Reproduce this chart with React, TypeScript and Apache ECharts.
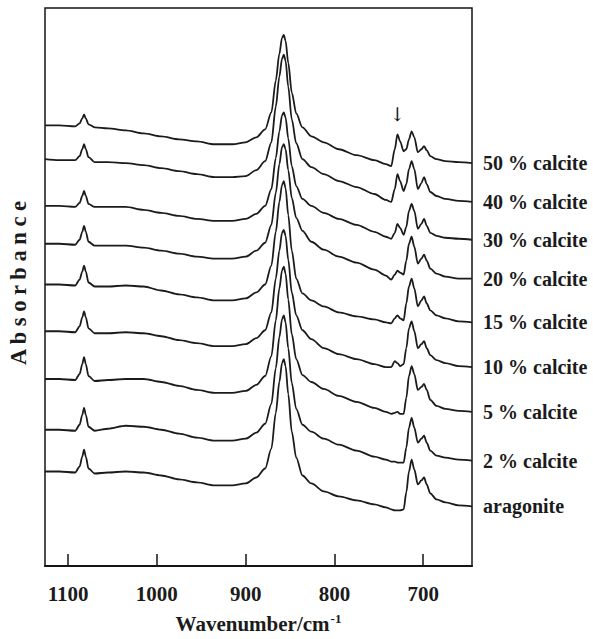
import React, { useEffect, useRef } from "react";
import * as echarts from "echarts";

// Wavenumber grid (cm-1) shared by all spectra
const wavenumbers = [1126, 1110, 1092, 1087, 1084, 1082, 1080, 1077, 1070, 1055, 1035, 1015, 995, 975, 955, 935, 915, 900, 888, 878, 871, 866, 862, 859, 857, 855, 852, 848, 843, 836, 826, 812, 795, 775, 755, 742, 736, 732, 729, 726, 722, 719, 716, 713, 710, 706, 702, 699, 696, 692, 685, 675, 660, 645];

// Stacked absorbance (offset, arbitrary units)
const calcite50 = [443, 443, 442, 445, 450, 454, 450, 444, 441, 440, 438, 435, 432, 429, 427, 424, 424, 426, 431, 439, 456, 488, 515, 531, 534, 528, 506, 476, 455, 441, 432, 426, 419, 413, 408, 404, 402, 419, 434, 427, 417, 419, 429, 437, 431, 416, 419, 422, 418, 412, 409, 407, 406, 405];
const calcite40 = [409, 408, 408, 412, 419, 424, 419, 411, 406, 406, 405, 403, 400, 397, 394, 391, 391, 392, 398, 407, 426, 462, 492, 510, 514, 508, 482, 449, 425, 409, 401, 394, 387, 381, 374, 368, 366, 379, 394, 387, 377, 384, 399, 407, 399, 379, 385, 391, 384, 376, 372, 369, 367, 366];
const calcite30 = [362, 362, 361, 365, 372, 377, 372, 364, 361, 361, 361, 358, 355, 352, 349, 347, 347, 349, 354, 362, 379, 410, 437, 453, 456, 451, 430, 402, 382, 369, 362, 355, 349, 343, 336, 331, 329, 335, 344, 340, 333, 341, 357, 364, 357, 339, 344, 349, 342, 335, 332, 330, 329, 328];
const calcite20 = [324, 324, 323, 328, 336, 342, 336, 326, 322, 322, 322, 320, 317, 314, 311, 309, 309, 311, 317, 325, 343, 375, 404, 421, 424, 419, 398, 370, 350, 337, 326, 318, 311, 305, 298, 292, 288, 293, 297, 295, 293, 307, 324, 331, 321, 304, 309, 313, 307, 299, 294, 291, 289, 289];
const calcite15 = [283, 283, 282, 288, 296, 302, 296, 285, 281, 281, 282, 281, 277, 273, 270, 267, 267, 269, 275, 283, 302, 336, 366, 383, 387, 380, 353, 317, 289, 274, 267, 261, 255, 251, 248, 245, 244, 249, 252, 249, 247, 264, 281, 289, 279, 261, 267, 271, 264, 257, 252, 249, 246, 245];
const calcite10 = [236, 236, 235, 241, 250, 256, 250, 239, 234, 234, 235, 234, 231, 227, 224, 221, 221, 223, 229, 237, 255, 289, 317, 335, 338, 332, 308, 275, 252, 237, 228, 219, 213, 208, 203, 200, 200, 206, 204, 201, 203, 219, 239, 246, 236, 219, 223, 226, 219, 212, 207, 204, 201, 200];
const calcite5 = [188, 188, 187, 193, 203, 210, 203, 191, 186, 187, 188, 188, 185, 181, 177, 174, 174, 176, 182, 191, 211, 247, 279, 297, 301, 294, 268, 233, 208, 192, 185, 178, 171, 165, 159, 155, 153, 154, 155, 153, 153, 169, 191, 201, 193, 177, 180, 183, 177, 167, 161, 158, 156, 155];
const calcite2 = [137, 137, 136, 142, 152, 159, 152, 140, 136, 138, 141, 140, 137, 133, 129, 126, 126, 128, 134, 143, 163, 199, 230, 248, 252, 245, 219, 184, 158, 142, 135, 128, 122, 116, 110, 107, 105, 105, 104, 104, 104, 119, 139, 149, 139, 124, 128, 131, 124, 116, 111, 109, 107, 106];
const aragonite = [95, 95, 94, 100, 110, 117, 110, 98, 93, 94, 95, 94, 91, 87, 84, 81, 81, 83, 89, 98, 118, 154, 185, 204, 208, 201, 173, 135, 109, 91, 83, 75, 70, 66, 62, 59, 57, 56, 56, 56, 57, 74, 95, 107, 97, 82, 86, 89, 82, 73, 67, 64, 61, 60];

const seriesNames = ["50 % calcite", "40 % calcite", "30 % calcite", "20 % calcite", "15 % calcite", "10 % calcite", "5 % calcite", "2 % calcite", "aragonite"];
const seriesValues = [calcite50, calcite40, calcite30, calcite20, calcite15, calcite10, calcite5, calcite2, aragonite];

const tickValues = [1100, 1000, 900, 800, 700];
const xMin = 645;
const xMax = 1126;
const yMin = 0;
const yMax = 561;

// calcite band marked by the arrow (on the 50 % calcite spectrum)
const arrowWavenumber = 729;

const SERIF = "'Liberation Serif', 'Times New Roman', 'DejaVu Serif', serif";

export default function App() {
  const ref = useRef<HTMLDivElement>(null);

  useEffect(() => {
    if (!ref.current) return;
    const chart = echarts.init(ref.current, undefined, { renderer: "svg" });

    const series = seriesNames.map((name, i) => {
      const vals = seriesValues[i];
      const s: any = {
        name,
        type: "line",
        data: wavenumbers.map((w, j) => [w, vals[j]]),
        showSymbol: false,
        symbol: "none",
        smooth: 0.3,
        smoothMonotone: "x",
        lineStyle: { color: "#1b1b1b", width: 1.8 },
        endLabel: {
          show: true,
          formatter: "{a}",
          align: "left",
          distance: -11,
          color: "#1b1b1b",
          fontFamily: SERIF,
          fontWeight: "bold",
          fontSize: 20,
        },
        silent: true,
      };
      if (i === 0) {
        const idx = wavenumbers.indexOf(arrowWavenumber);
        s.markPoint = {
          symbol: "circle",
          symbolSize: 0,
          silent: true,
          label: {
            show: true,
            position: "top",
            distance: 11,
            formatter: "\u2193",
            color: "#1b1b1b",
            fontFamily: "'DejaVu Serif', serif",
            fontSize: 19,
          },
          data: [{ coord: [arrowWavenumber, vals[idx]] }],
        };
      }
      return s;
    });

    chart.setOption({
      animation: false,
      backgroundColor: "#ffffff",
      grid: {
        left: 45,
        top: 8,
        width: 427,
        height: 561,
        show: true,
        borderColor: "#151515",
        borderWidth: 1.5,
        backgroundColor: "transparent",
      },
      xAxis: {
        type: "value",
        inverse: true,
        min: xMin,
        max: xMax,
        name: "Wavenumber/cm{sup|-1}",
        nameLocation: "middle",
        nameGap: 46,
        nameTextStyle: {
          fontFamily: SERIF,
          fontWeight: "bold",
          fontSize: 21,
          color: "#1b1b1b",
          rich: {
            sup: {
              fontFamily: SERIF,
              fontWeight: "bold",
              fontSize: 13,
              color: "#1b1b1b",
              padding: [0, 0, 10, 1],
            },
          },
        },
        axisLine: { show: true, lineStyle: { color: "#151515", width: 2 } },
        axisTick: {
          show: true,
          inside: true,
          length: 12,
          customValues: tickValues,
          lineStyle: { color: "#151515", width: 1.5 },
        },
        axisLabel: {
          show: true,
          customValues: tickValues,
          formatter: (v: number) => String(v),
          margin: 17,
          fontFamily: SERIF,
          fontWeight: "bold",
          fontSize: 21,
          color: "#1b1b1b",
        },
        splitLine: { show: false },
      },
      yAxis: {
        type: "value",
        min: yMin,
        max: yMax,
        axisLine: { show: false },
        axisTick: { show: false },
        axisLabel: { show: false },
        splitLine: { show: false },
      },
      graphic: [
        {
          type: "text",
          x: 18,
          y: 283,
          rotation: Math.PI / 2,
          style: {
            text: "A b s o r b a n c e",
            fontFamily: SERIF,
            fontWeight: "bold",
            fontSize: 22.5,
            fill: "#1b1b1b",
            textAlign: "center",
            textVerticalAlign: "middle",
          },
        },
      ],
      series,
    });

    return () => chart.dispose();
  }, []);

  return (
    <div
      ref={ref}
      style={{ position: "fixed", left: 0, top: 0, width: 593, height: 639 }}
    />
  );
}
